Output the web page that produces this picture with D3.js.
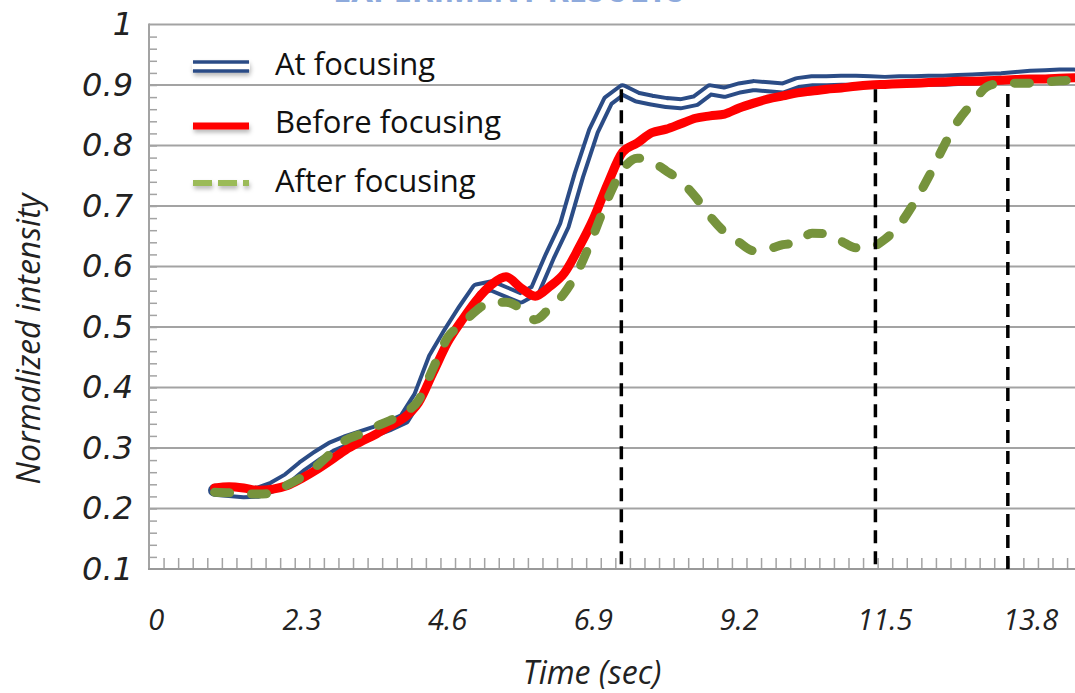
<!DOCTYPE html>
<html>
<head>
<meta charset="utf-8">
<script src="https://cdn.jsdelivr.net/npm/d3@7"></script>
<style>
  html, body { margin: 0; padding: 0; background: #ffffff; }
  svg { display: block; }
</style>
</head>
<body>
<svg id="chart" width="1075" height="693"></svg>
<script>
// Frame times (s), one frame every 0.23 s
const frameTimes = [
  0.92, 1.15, 1.38, 1.61, 1.84, 2.07, 2.30, 2.53, 2.76, 2.99,
  3.22, 3.45, 3.68, 3.91, 4.14, 4.37, 4.60, 4.83, 5.06, 5.29,
  5.52, 5.75, 5.98, 6.21, 6.44, 6.67, 6.90, 7.13, 7.36, 7.59,
  7.82, 8.05, 8.28, 8.51, 8.74, 8.97, 9.20, 9.43, 9.66, 9.89,
  10.12, 10.35, 10.58, 10.81, 11.04, 11.27, 11.50, 11.73, 11.96, 12.19,
  12.42, 12.65, 12.88, 13.11, 13.34, 13.57, 13.80, 14.03, 14.26, 14.49
];

const atFocusing = [
  0.230, 0.228, 0.226, 0.227, 0.236, 0.250, 0.270, 0.287, 0.302, 0.312,
  0.320, 0.328, 0.337, 0.348, 0.386, 0.449, 0.490, 0.528, 0.563, 0.568,
  0.558, 0.548, 0.561, 0.617, 0.668, 0.751, 0.824, 0.874, 0.892, 0.880,
  0.875, 0.871, 0.869, 0.874, 0.892, 0.888, 0.895, 0.899, 0.897, 0.895,
  0.904, 0.907, 0.907, 0.908, 0.908, 0.907, 0.906, 0.907, 0.907, 0.908,
  0.908, 0.909, 0.910, 0.911, 0.912, 0.914, 0.916, 0.917, 0.918, 0.918
];

const beforeFocusing = [
  0.234, 0.236, 0.234, 0.230, 0.232, 0.238, 0.250, 0.264, 0.280, 0.297,
  0.310, 0.322, 0.336, 0.350, 0.375, 0.425, 0.475, 0.512, 0.545, 0.570,
  0.583, 0.565, 0.551, 0.567, 0.589, 0.631, 0.679, 0.738, 0.789, 0.804,
  0.821, 0.827, 0.836, 0.845, 0.849, 0.852, 0.862, 0.870, 0.877, 0.882,
  0.887, 0.890, 0.893, 0.895, 0.898, 0.900, 0.901, 0.902, 0.903, 0.904,
  0.905, 0.906, 0.906, 0.907, 0.908, 0.909, 0.910, 0.910, 0.911, 0.912
];

const afterFocusing = [
  0.227, 0.226, 0.224, 0.224, 0.225, 0.239, 0.252, 0.270, 0.292, 0.313,
  0.323, 0.335, 0.345, 0.358, 0.379, 0.432, 0.483, 0.505, 0.528, 0.541,
  0.541, 0.531, 0.512, 0.532, 0.556, 0.596, 0.652, 0.713, 0.760, 0.779,
  0.773, 0.758, 0.741, 0.715, 0.683, 0.657, 0.640, 0.626, 0.629, 0.636,
  0.640, 0.655, 0.654, 0.642, 0.631, 0.632, 0.645, 0.669, 0.705, 0.748,
  0.797, 0.840, 0.870, 0.897, 0.903, 0.903, 0.903, 0.905, 0.907, 0.908
];

// Time instants marked with vertical dashed lines, and where each line stops
const markerTimes = [7.34, 11.35, 13.44];
const markerTops = [0.893, 0.893, 0.885];

const yTickLabels = [0.1, 0.2, 0.3, 0.4, 0.5, 0.6, 0.7, 0.8, 0.9, 1];
const xTickLabels = [0, 2.3, 4.6, 6.9, 9.2, 11.5, 13.8];
const seriesNames = ["At focusing", "Before focusing", "After focusing"];
const headerText = "EXPERIMENT RESULTS";

// ---- layout ----
const svg = d3.select("#chart");
const plotLeft = 149, plotRight = 1075, plotTop = 24.5, plotBottom = 569;

const x = d3.scaleLinear().domain([-0.115, 14.5]).range([plotLeft, plotRight]);
const y = d3.scaleLinear().domain([0.1, 1]).range([plotBottom, plotTop]);

const gridColor = "#a3a3a3";
const blue = "#2b4c86";
const red = "#ff0000";
const green = "#76933c";

// soft shadow used by the legend keys (user-space region: the keys are flat lines)
const defs = svg.append("defs");
const sh = defs.append("filter").attr("id", "keyShadow")
  .attr("filterUnits", "userSpaceOnUse")
  .attr("x", 170).attr("y", 40).attr("width", 110).attr("height", 170);
sh.append("feDropShadow").attr("dx", 1).attr("dy", 3).attr("stdDeviation", 2)
  .attr("flood-color", "#000").attr("flood-opacity", 0.28);

// header, mostly above the visible area
svg.append("text")
  .attr("x", 333).attr("y", 1.5)
  .attr("textLength", 352).attr("lengthAdjust", "spacingAndGlyphs")
  .attr("font-family", "Open Sans, sans-serif").attr("font-weight", 700)
  .attr("font-size", 44).attr("fill", "#8eaadc")
  .text(headerText);

// ---- gridlines ----
svg.append("g").selectAll("line")
  .data(yTickLabels.filter(d => d > 0.1))
  .join("line")
  .attr("x1", plotLeft).attr("x2", plotRight)
  .attr("y1", d => y(d)).attr("y2", d => y(d))
  .attr("stroke", gridColor).attr("stroke-width", 2);

// y axis: minor ticks pointing into the plot
const yMinor = d3.range(0.12, 0.995, 0.02);
svg.append("g")
  .attr("transform", `translate(${plotLeft},0)`)
  .call(d3.axisRight(y).tickValues(yMinor).tickSize(8).tickFormat(""))
  .call(g => g.select(".domain").remove())
  .call(g => g.selectAll("line").attr("stroke", gridColor).attr("stroke-width", 1.5));

// x axis: category ticks between frames, pointing up
const xMinor = d3.range(0.115, 14.45, 0.23);
svg.append("g")
  .attr("transform", `translate(0,${plotBottom})`)
  .call(d3.axisTop(x).tickValues(xMinor).tickSize(11).tickFormat(""))
  .call(g => g.select(".domain").remove())
  .call(g => g.selectAll("line").attr("stroke", gridColor).attr("stroke-width", 1.5));

// axis lines
svg.append("line").attr("x1", plotLeft).attr("x2", plotLeft)
  .attr("y1", plotTop - 1).attr("y2", plotBottom + 1)
  .attr("stroke", gridColor).attr("stroke-width", 2);
svg.append("line").attr("x1", plotLeft - 1).attr("x2", plotRight)
  .attr("y1", plotBottom).attr("y2", plotBottom)
  .attr("stroke", "#999999").attr("stroke-width", 2);

// y tick labels
svg.append("g")
  .attr("transform", `translate(${plotLeft},0)`)
  .call(d3.axisLeft(y).tickValues(yTickLabels).tickSize(0).tickPadding(16)
    .tickFormat(d => String(d)))
  .call(g => g.select(".domain").remove())
  .call(g => g.selectAll("text")
    .attr("font-family", "DejaVu Sans, sans-serif")
    .attr("font-style", "italic")
    .attr("font-size", 32)
    .attr("fill", "#222"));

// x tick labels
svg.append("g").selectAll("text")
  .data(xTickLabels)
  .join("text")
  .attr("x", d => x(d)).attr("y", 630)
  .attr("text-anchor", "middle")
  .attr("font-family", "Open Sans, sans-serif").attr("font-style", "italic")
  .attr("font-size", 29).attr("fill", "#222")
  .text(d => String(d));

// axis titles
svg.append("text")
  .attr("x", 592).attr("y", 684)
  .attr("text-anchor", "middle")
  .attr("font-family", "Open Sans, sans-serif").attr("font-style", "italic")
  .attr("font-size", 32).attr("fill", "#222")
  .text("Time (sec)");

svg.append("text")
  .attr("transform", "translate(40,339) rotate(-90)")
  .attr("text-anchor", "middle")
  .attr("font-family", "Open Sans, sans-serif").attr("font-style", "italic")
  .attr("font-size", 32).attr("fill", "#222")
  .text("Normalized intensity");

// ---- series ----
const lineLinear = d3.line().x((d, i) => x(frameTimes[i])).y(d => y(d));
const lineSmooth = d3.line().x((d, i) => x(frameTimes[i])).y(d => y(d)).curve(d3.curveMonotoneX);

const plot = svg.append("g");

// double line: dark outer stroke with a white core
plot.append("path").datum(atFocusing)
  .attr("d", lineLinear).attr("fill", "none")
  .attr("stroke", blue).attr("stroke-width", 13)
  .attr("stroke-linejoin", "round").attr("stroke-linecap", "round");
plot.append("path").datum(atFocusing)
  .attr("d", lineLinear).attr("fill", "none")
  .attr("stroke", "#ffffff").attr("stroke-width", 5)
  .attr("stroke-linejoin", "round").attr("stroke-linecap", "round");

plot.append("path").datum(beforeFocusing)
  .attr("d", lineSmooth).attr("fill", "none")
  .attr("stroke", red).attr("stroke-width", 9)
  .attr("stroke-linejoin", "round").attr("stroke-linecap", "round");

plot.append("path").datum(afterFocusing)
  .attr("d", lineSmooth).attr("fill", "none")
  .attr("stroke", green).attr("stroke-width", 9)
  .attr("stroke-dasharray", "15,22")
  .attr("stroke-linejoin", "round").attr("stroke-linecap", "round");

// vertical dashed markers
svg.append("g").selectAll("line")
  .data(markerTimes)
  .join("line")
  .attr("x1", d => x(d)).attr("x2", d => x(d))
  .attr("y1", (d, i) => y(markerTops[i])).attr("y2", plotBottom)
  .attr("stroke", "#000").attr("stroke-width", 3.5)
  .attr("stroke-dasharray", "13,8");

// ---- legend ----
const legend = svg.append("g");
const keyX0 = 193, keyX1 = 249, textX = 275;
const rowY = [66.5, 126, 183];
const baseY = [75, 133, 192];

// At focusing key: two thin parallel lines
const kA = legend.append("g").attr("filter", "url(#keyShadow)");
kA.append("line").attr("x1", keyX0).attr("x2", keyX1).attr("y1", rowY[0]).attr("y2", rowY[0])
  .attr("stroke", blue).attr("stroke-width", 12.5);
kA.append("line").attr("x1", keyX0 - 1).attr("x2", keyX1 + 1).attr("y1", rowY[0]).attr("y2", rowY[0])
  .attr("stroke", "#ffffff").attr("stroke-width", 5.5);

legend.append("line").attr("x1", keyX0).attr("x2", keyX1).attr("y1", rowY[1]).attr("y2", rowY[1])
  .attr("stroke", red).attr("stroke-width", 7).attr("filter", "url(#keyShadow)");

legend.append("line").attr("x1", keyX0).attr("x2", keyX1).attr("y1", rowY[2]).attr("y2", rowY[2])
  .attr("stroke", "#9bbb59").attr("stroke-width", 6)
  .attr("stroke-dasharray", "19,6").attr("filter", "url(#keyShadow)");

legend.selectAll("text.lbl")
  .data(seriesNames)
  .join("text")
  .attr("class", "lbl")
  .attr("x", textX).attr("y", (d, i) => baseY[i])
  .attr("font-family", "Open Sans, sans-serif")
  .attr("font-size", 31).attr("fill", "#111")
  .text(d => d);
</script>
</body>
</html>
